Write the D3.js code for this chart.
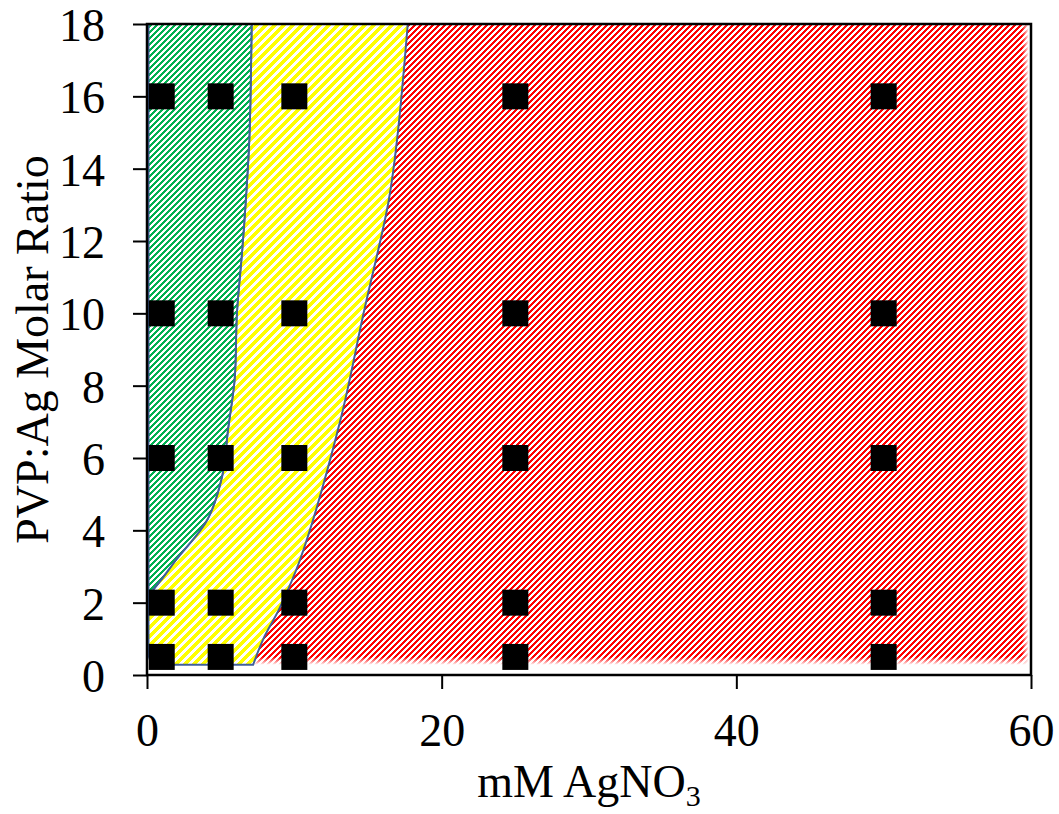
<!DOCTYPE html>
<html><head><meta charset="utf-8">
<script src="https://cdn.jsdelivr.net/npm/d3@7"></script>
<style>body{margin:0;background:#fff}</style>
</head><body>
<svg id="chart" width="1059" height="814"></svg>
<script>
// ---- data ----
const xTicks = [0, 20, 40, 60];
const yTicks = [0, 2, 4, 6, 8, 10, 12, 14, 16, 18];
const sampleConc = [1, 5, 10, 25, 50];          // mM AgNO3
const sampleRatio = [0.5, 2, 6, 10, 16];        // PVP:Ag molar ratio
// boundary between green and yellow regions (top to bottom)
const greenEdge = [[7.1,18],[6.95,14.9],[6.7,13.1],[6.45,11.7],[6.1,10],[5.95,8.2],[5.5,6.8],[5.1,5.5],[4.1,4.3],[2.0,3.2],[0.9,2.6],[0.1,2.2]];
// boundary between yellow and red regions (top to bottom)
const redEdge = [[17.7,18],[17.0,14.9],[16.4,13.1],[14.7,10],[13.1,7.0],[10.4,3.2],[9.0,1.85],[7.9,1.0],[7.2,0.28]];
const regionLeft = 0.1, regionBottom = 0.28, regionRight = 59.85, regionTop = 18;

// ---- chart ----
const svg = d3.select("#chart");
const x = d3.scaleLinear().domain([0, 60]).range([147, 1031]);
const y = d3.scaleLinear().domain([0, 18]).range([675, 24]);
const font = "'Liberation Serif','Times New Roman',serif";
const edgeColor = "#41609A";

const defs = svg.append("defs");
// pixel-staircase diagonal ("/") stripes: period p px, t px filled per row
function stripes(id, color, p, t) {
  const pat = defs.append("pattern").attr("id", id)
    .attr("patternUnits", "userSpaceOnUse")
    .attr("x", 0).attr("y", 0).attr("width", p).attr("height", p);
  pat.append("rect").attr("width", p).attr("height", p).attr("fill", "#fff");
  const cells = [];
  for (let r = 0; r < p; r++)
    for (let c = 0; c < p; c++)
      if ((c + r) % p < t) cells.push([c, r]);
  pat.selectAll("rect.c").data(cells).join("rect").attr("class", "c")
    .attr("x", d => d[0]).attr("y", d => d[1]).attr("width", 1).attr("height", 1)
    .attr("fill", color).attr("shape-rendering", "crispEdges");
}
stripes("pGreen", "#00B050", 6, 3);
stripes("pYellow", "#FFFF00", 9, 5);
stripes("pRed", "#FF0000", 6, 3);

const fr = defs.append("filter").attr("id", "soft").attr("x", "-5%").attr("y", "-5%").attr("width", "110%").attr("height", "110%");
fr.append("feGaussianBlur").attr("stdDeviation", 0.5);

const gR = defs.append("linearGradient").attr("id", "gRight").attr("gradientUnits", "userSpaceOnUse")
  .attr("x1", x(regionRight) - 7).attr("x2", x(regionRight)).attr("y1", 0).attr("y2", 0);
gR.append("stop").attr("offset", 0).attr("stop-color", "#fff");
gR.append("stop").attr("offset", 1).attr("stop-color", "#000");
const gB = defs.append("linearGradient").attr("id", "gBottom").attr("gradientUnits", "userSpaceOnUse")
  .attr("x1", 0).attr("x2", 0).attr("y1", y(regionBottom) - 8).attr("y2", y(regionBottom));
gB.append("stop").attr("offset", 0).attr("stop-color", "#fff");
gB.append("stop").attr("offset", 1).attr("stop-color", "#000");
defs.append("mask").attr("id", "mRight").attr("maskUnits", "userSpaceOnUse")
  .attr("x", 0).attr("y", 0).attr("width", 1059).attr("height", 814)
  .append("rect").attr("width", 1059).attr("height", 814).attr("fill", "url(#gRight)");
defs.append("mask").attr("id", "mBottom").attr("maskUnits", "userSpaceOnUse")
  .attr("x", 0).attr("y", 0).attr("width", 1059).attr("height", 814)
  .append("rect").attr("width", 1059).attr("height", 814).attr("fill", "url(#gBottom)");

const line = d3.line().x(d => x(d[0])).y(d => y(d[1])).curve(d3.curveCatmullRom.alpha(0.5));
const P = (a, b) => "L" + x(a) + "," + y(b);

const redPath = line(redEdge) + P(regionRight, regionBottom) + P(regionRight, regionTop) + "Z";
const yellowPath = line(greenEdge) + P(regionLeft, 0.55) + P(0.3, regionBottom) +
  line(redEdge.slice().reverse()).replace(/^M/, "L") + "Z";
const greenPath = line(greenEdge) + P(regionLeft, regionTop) + "Z";

svg.append("g").attr("mask", "url(#mRight)")
  .append("g").attr("mask", "url(#mBottom)")
  .append("path").attr("d", redPath).attr("fill", "url(#pRed)").attr("filter", "url(#soft)");
svg.append("path").attr("d", yellowPath).attr("fill", "url(#pYellow)")
  .attr("stroke", edgeColor).attr("stroke-width", 2);
svg.append("path").attr("d", greenPath).attr("fill", "url(#pGreen)")
  .attr("stroke", edgeColor).attr("stroke-width", 2);

// axes
const xAxis = svg.append("g").attr("transform", `translate(0,${y(0)})`)
  .call(d3.axisBottom(x).tickValues(xTicks).tickSize(14).tickPadding(24).tickSizeOuter(0));
const yAxis = svg.append("g").attr("transform", `translate(${x(0)},0)`)
  .call(d3.axisLeft(y).tickValues(yTicks).tickSize(14).tickPadding(28).tickSizeOuter(0));
[xAxis, yAxis].forEach(a => {
  a.select(".domain").remove();
  a.selectAll("line").attr("stroke", "#000").attr("stroke-width", 2);
  a.selectAll("text").attr("font-family", font).attr("font-size", 46).attr("fill", "#000");
});
yAxis.selectAll("text").attr("dy", "0.36em");

// frame
svg.append("rect").attr("x", x(0)).attr("y", y(18)).attr("width", x(60) - x(0)).attr("height", y(0) - y(18))
  .attr("fill", "none").attr("stroke", "#000").attr("stroke-width", 2.5);

// sample points
const pts = d3.cross(sampleConc, sampleRatio);
const sq = 26;
svg.append("g").selectAll("rect").data(pts).join("rect")
  .attr("x", d => x(d[0]) - sq / 2).attr("y", d => y(d[1]) - sq / 2)
  .attr("width", sq).attr("height", sq).attr("fill", "#000");

// titles
const xt = svg.append("text").attr("x", (x(0) + x(60)) / 2).attr("y", 797)
  .attr("text-anchor", "middle").attr("font-family", font).attr("font-size", 46);
xt.append("tspan").text("mM AgNO");
xt.append("tspan").attr("font-size", 30).attr("dy", 9).text("3");

svg.append("text").attr("transform", `translate(48,${(y(0) + y(18)) / 2}) rotate(-90)`)
  .attr("text-anchor", "middle").attr("font-family", font).attr("font-size", 46)
  .text("PVP:Ag Molar Ratio");
</script>
</body></html>
